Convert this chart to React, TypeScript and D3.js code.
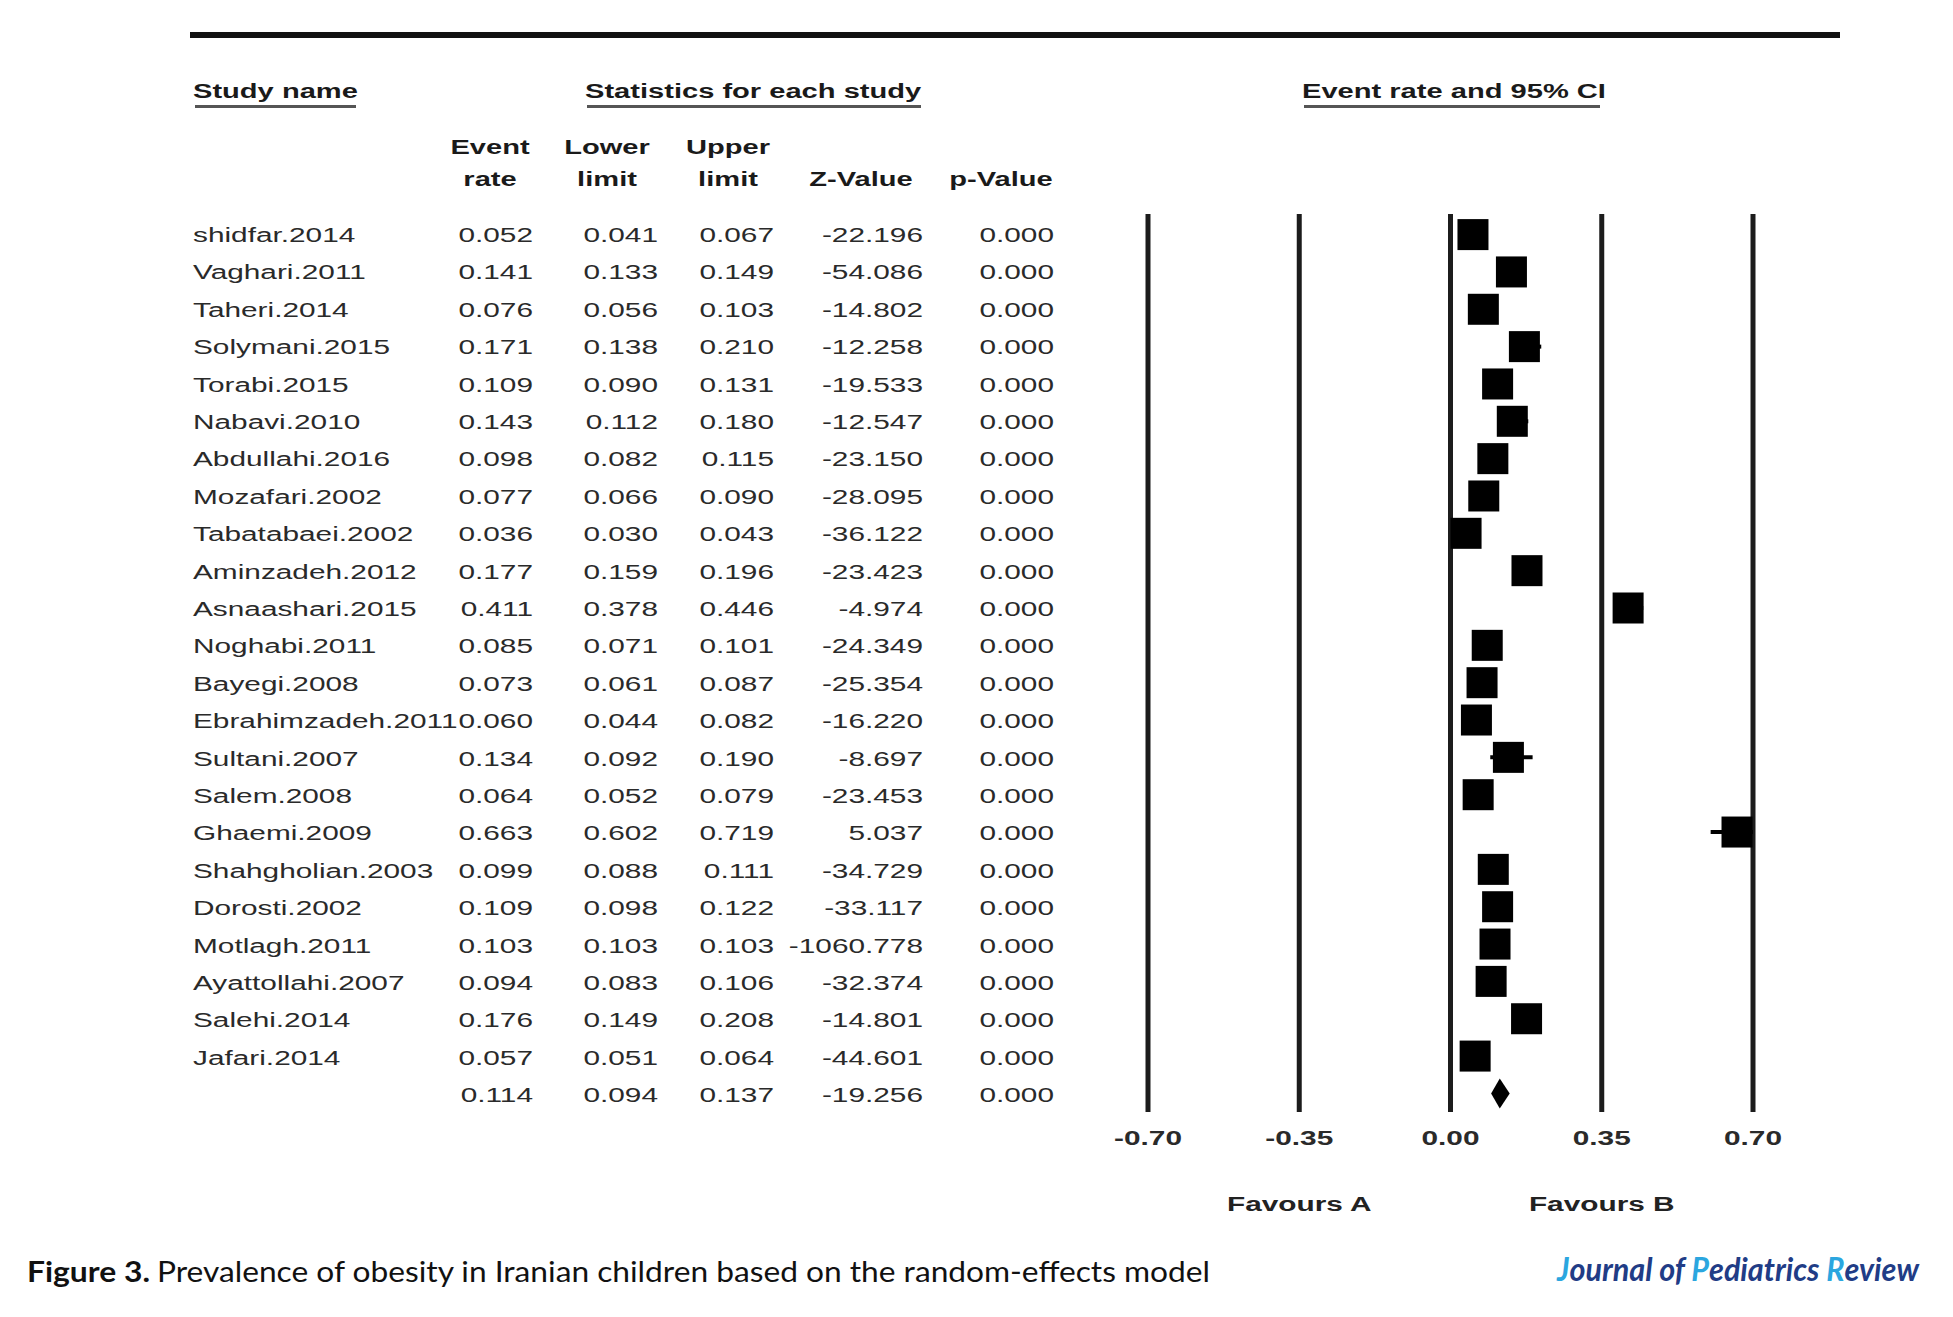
import React from 'react';
import * as d3 from 'd3';

const studyNames = [
  'shidfar.2014', 'Vaghari.2011', 'Taheri.2014', 'Solymani.2015', 'Torabi.2015',
  'Nabavi.2010', 'Abdullahi.2016', 'Mozafari.2002', 'Tabatabaei.2002', 'Aminzadeh.2012',
  'Asnaashari.2015', 'Noghabi.2011', 'Bayegi.2008', 'Ebrahimzadeh.2011', 'Sultani.2007',
  'Salem.2008', 'Ghaemi.2009', 'Shahgholian.2003', 'Dorosti.2002', 'Motlagh.2011',
  'Ayattollahi.2007', 'Salehi.2014', 'Jafari.2014',
];
const eventRate = [
  0.052, 0.141, 0.076, 0.171, 0.109, 0.143, 0.098, 0.077, 0.036, 0.177, 0.411, 0.085,
  0.073, 0.060, 0.134, 0.064, 0.663, 0.099, 0.109, 0.103, 0.094, 0.176, 0.057,
];
const lowerLimit = [
  0.041, 0.133, 0.056, 0.138, 0.090, 0.112, 0.082, 0.066, 0.030, 0.159, 0.378, 0.071,
  0.061, 0.044, 0.092, 0.052, 0.602, 0.088, 0.098, 0.103, 0.083, 0.149, 0.051,
];
const upperLimit = [
  0.067, 0.149, 0.103, 0.210, 0.131, 0.180, 0.115, 0.090, 0.043, 0.196, 0.446, 0.101,
  0.087, 0.082, 0.190, 0.079, 0.719, 0.111, 0.122, 0.103, 0.106, 0.208, 0.064,
];
const zValue = [
  -22.196, -54.086, -14.802, -12.258, -19.533, -12.547, -23.15, -28.095, -36.122, -23.423,
  -4.974, -24.349, -25.354, -16.22, -8.697, -23.453, 5.037, -34.729, -33.117, -1060.778,
  -32.374, -14.801, -44.601,
];
const pValue = [
  0, 0, 0, 0, 0, 0, 0, 0, 0, 0, 0, 0, 0, 0, 0, 0, 0, 0, 0, 0, 0, 0, 0,
];
// pooled (random effects)
const summary = { rate: 0.114, lower: 0.094, upper: 0.137, z: -19.256, p: 0 };

const axisTicks = [-0.7, -0.35, 0, 0.35, 0.7];
const colHeads = [
  ['Event', 'rate'], ['Lower', 'limit'], ['Upper', 'limit'], ['', 'Z-Value'], ['', 'p-Value'],
];

const W = 1953;
const H = 1317;
const SX = 1.42; // the source figure is stretched horizontally
const FONT = '"Liberation Sans", Arial, sans-serif';

const ForestPlot: React.FC = () => {
  const svgRef = React.useRef<SVGSVGElement>(null);

  React.useEffect(() => {
    if (!svgRef.current) return;
    const svg = d3.select(svgRef.current);
    svg.selectAll('*').remove();

    const n = studyNames.length;
    const textY = d3.scaleLinear().domain([0, n]).range([242, 242 + n * 37.4]);
    const markY = d3.scaleLinear().domain([0, n]).range([234.6, 234.6 + n * 37.34]);
    const x = d3.scaleLinear().domain([-0.7, 0.7]).range([1148, 1753]);
    const clampX = (v: number) => x(Math.max(-0.7, Math.min(0.7, v)));

    const colRight = [533, 658, 774, 923, 1054];
    const headCenter = [490, 607, 728, 861, 1001];

    const label = (
      px: number, py: number, txt: string,
      anchor = 'start', weight = 'normal', fill = '#2a2a2a', size = 21,
    ) => svg.append('text')
      .attr('transform', `translate(${px},${py}) scale(${SX},1)`)
      .attr('text-anchor', anchor)
      .style('font-family', FONT)
      .style('font-size', `${size}px`)
      .style('font-weight', weight)
      .style('fill', fill)
      .text(txt);

    // top rule
    svg.append('line')
      .attr('x1', 190).attr('x2', 1840).attr('y1', 35).attr('y2', 35)
      .attr('stroke', '#111').attr('stroke-width', 6);

    // section headers with underline
    const sections: [string, number, number][] = [
      ['Study name', 193, 356], ['Statistics for each study', 585, 921], ['Event rate and 95% CI', 1302, 1600],
    ];
    sections.forEach(([t, x0, x1]) => {
      label(x0, 98, t, 'start', 'bold', '#1a1a1a', 20.5);
      svg.append('rect')
        .attr('x', x0 + 2).attr('y', 105).attr('width', x1 - x0 - 2).attr('height', 3)
        .attr('fill', '#555');
    });

    // column headers
    colHeads.forEach(([a, b], i) => {
      if (a) label(headCenter[i], 154, a, 'middle', 'bold', '#1a1a1a', 20.5);
      label(headCenter[i], 186, b, 'middle', 'bold', '#1a1a1a', 20.5);
    });

    // table rows
    const f3 = d3.format('.3f');
    studyNames.forEach((name, i) => {
      const y = textY(i);
      label(193, y, name);
      [eventRate[i], lowerLimit[i], upperLimit[i], zValue[i], pValue[i]].forEach((v, j) => {
        label(colRight[j], y, f3(v).replace('−', '-'), 'end');
      });
    });
    const ys = textY(n);
    [summary.rate, summary.lower, summary.upper, summary.z, summary.p].forEach((v, j) => {
      label(colRight[j], ys, f3(v).replace('−', '-'), 'end');
    });

    // reference lines
    svg.append('g')
      .selectAll('line')
      .data(axisTicks)
      .join('line')
      .attr('x1', d => x(d)).attr('x2', d => x(d))
      .attr('y1', 214).attr('y2', 1112)
      .attr('stroke', '#1c1c1c').attr('stroke-width', 5);

    axisTicks.forEach(t => label(x(t), 1145, d3.format('.2f')(t).replace('−', '-'), 'middle', 'bold', '#2a2a2a'));
    label(x(-0.35), 1211, 'Favours A', 'middle', 'bold', '#222');
    label(x(0.35), 1211, 'Favours B', 'middle', 'bold', '#222');

    // CI whiskers (clipped at the axis limits) and squares
    const sq = 31;
    const marks = svg.append('g');
    studyNames.forEach((_, i) => {
      const cy = markY(i);
      marks.append('line')
        .attr('x1', clampX(lowerLimit[i])).attr('x2', clampX(upperLimit[i]))
        .attr('y1', cy).attr('y2', cy)
        .attr('stroke', '#000').attr('stroke-width', 4);
      const cx = x(eventRate[i]);
      const left = cx - sq / 2;
      const right = Math.min(cx + sq / 2, x(0.7));
      marks.append('rect')
        .attr('x', left).attr('y', cy - sq / 2)
        .attr('width', right - left).attr('height', sq)
        .attr('fill', '#000');
    });

    // summary diamond
    const cy = markY(n);
    const diamond = [
      [x(summary.lower), cy], [x(summary.rate), cy - 15], [x(summary.upper), cy], [x(summary.rate), cy + 15],
    ] as [number, number][];
    marks.append('path')
      .attr('d', d3.line()(diamond) + 'Z')
      .attr('fill', '#000');

    // caption
    svg.append('text')
      .attr('x', 27).attr('y', 1282)
      .attr('textLength', 123).attr('lengthAdjust', 'spacingAndGlyphs')
      .style('font-family', 'Lato, "Open Sans", sans-serif')
      .style('font-size', '28px').style('font-weight', 'bold').style('fill', '#111')
      .text('Figure 3.');
    svg.append('text')
      .attr('x', 157).attr('y', 1282)
      .attr('textLength', 1053).attr('lengthAdjust', 'spacingAndGlyphs')
      .style('font-family', 'Lato, "Open Sans", sans-serif')
      .style('font-size', '28px').style('fill', '#111')
      .text('Prevalence of obesity in Iranian children based on the random-effects model');

    // journal mark: separate pieces laid out side by side, then fitted to width
    const light = '#2ba6df';
    const navy = '#213c86';
    const pieces: [string, string][] = [
      ['J', light], ['ournal\u00a0of\u00a0', navy], ['P', light], ['ediatrics\u00a0', navy], ['R', light], ['eview', navy],
    ];
    const jg = svg.append('g');
    let cursor = 0;
    pieces.forEach(([t, c]) => {
      const node = jg.append('text')
        .attr('x', cursor).attr('y', 0)
        .style('font-family', 'Lato, "Open Sans", sans-serif')
        .style('font-size', '32px').style('font-weight', 'bold').style('font-style', 'italic')
        .style('fill', c)
        .text(t)
        .node() as SVGTextElement;
      cursor += node.getComputedTextLength();
    });
    const fit = cursor > 0 ? 362 / cursor : 1;
    jg.attr('transform', `translate(1557,1281) scale(${fit},1)`);
  }, []);

  return (
    <svg
      ref={svgRef}
      width={W}
      height={H}
      viewBox={`0 0 ${W} ${H}`}
      style={{ position: 'absolute', left: 0, top: 0, background: '#fff' }}
    ></svg>
  );
};

const App: React.FC = () => <ForestPlot />;

export default App;
